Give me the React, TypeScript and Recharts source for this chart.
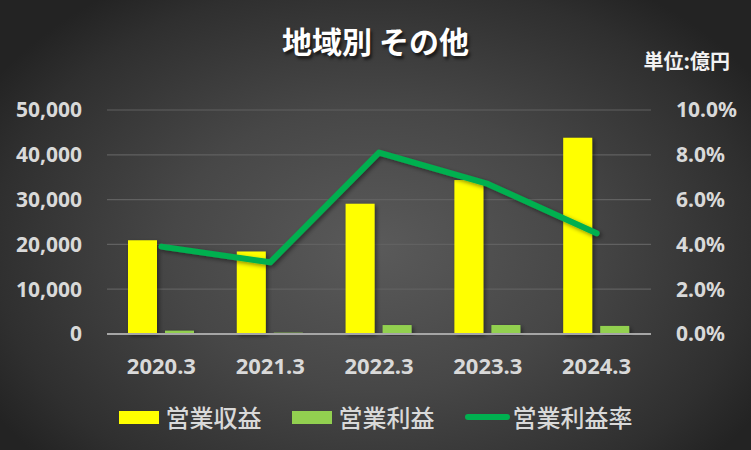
import React from 'react';
import { ComposedChart, Bar, Line, XAxis, YAxis, CartesianGrid, Legend } from 'recharts';

const categories = ['2020.3', '2021.3', '2022.3', '2023.3', '2024.3'];
const revenue = [20900, 18400, 29100, 34400, 43800];
const profit = [750, 300, 2000, 2000, 1800];
const margin = [3.9, 3.2, 8.1, 6.7, 4.5];
const leftTicks = [0, 10000, 20000, 30000, 40000, 50000];
const rightTicks = [0, 2, 4, 6, 8, 10];

const seriesNames = ['営業収益', '営業利益', '営業利益率'];
const colors = ['#FFFF00', '#92D050', '#00B050'];

const data = categories.map((c, i) => ({
  name: c,
  revenue: revenue[i],
  profit: profit[i],
  margin: margin[i],
}));

const FONT = '"Noto Sans", "Noto Sans CJK JP", sans-serif';
const CJK = '"Noto Sans CJK JP", "Noto Sans", sans-serif';
const TICK_COLOR = '#D9D9D9';

const LegendContent = () => (
  <div style={{ display: 'flex', justifyContent: 'center', alignItems: 'center', fontFamily: CJK, fontSize: 24, color: TICK_COLOR, fontWeight: 500 }}>
    {seriesNames.map((n, i) => (
      <div key={n} style={{ display: 'flex', alignItems: 'center', marginLeft: i === 0 ? 0 : 30 }}>
        {i < 2 ? (
          <div style={{ width: 40, height: 13, background: colors[i], marginRight: 7 }} />
        ) : (
          <div style={{ width: 45, height: 6, borderRadius: 3, background: colors[i], marginRight: 3 }} />
        )}
        <span style={{ lineHeight: '30px' }}>{n}</span>
      </div>
    ))}
  </div>
);

export default function App() {
  return (
    <div
      style={{
        position: 'absolute',
        top: 0,
        left: 0,
        width: 751,
        height: 450,
        background: 'radial-gradient(ellipse 60% 70% at 50% 55%, #5a5a5a 0%, #474747 45%, #2f2f2f 85%, #232323 100%)',
        overflow: 'hidden',
      }}
    >
      <div
        style={{
          position: 'absolute',
          top: 20,
          left: 0,
          width: 751,
          textAlign: 'center',
          fontFamily: CJK,
          fontWeight: 700,
          fontSize: 30,
          lineHeight: '40px',
          color: '#FFFFFF',
          textShadow: '2px 3px 3px rgba(0,0,0,0.6)',
        }}
      >
        地域別 その他
      </div>
      <div
        style={{
          position: 'absolute',
          top: 47,
          right: 21,
          fontFamily: CJK,
          fontWeight: 700,
          fontSize: 20,
          lineHeight: '28px',
          color: '#F2F2F2',
        }}
      >
        単位:億円
      </div>
      <ComposedChart
        width={751}
        height={450}
        data={data}
        margin={{ top: 110, right: 0, bottom: 76, left: 0 }}
        barGap={8}
      >
        <defs>
          <filter id="sh" x="-20%" y="-20%" width="140%" height="140%">
            <feDropShadow dx="2" dy="2" stdDeviation="2" floodColor="#000" floodOpacity="0.45" />
          </filter>
        </defs>
        <CartesianGrid vertical={false} stroke="#616161" strokeWidth={1.2} yAxisId="left" />
        <XAxis
          dataKey="name"
          tickLine={false}
          axisLine={{ stroke: '#A6A6A6', strokeWidth: 2 }}
          tickSize={0}
          tickMargin={24}
          interval={0}
          tick={{ fill: TICK_COLOR, fontSize: 22, fontWeight: 700, fontFamily: FONT }}
          height={40}
        />
        <YAxis
          yAxisId="left"
          domain={[0, 50000]}
          ticks={leftTicks}
          width={107}
          tickLine={false}
          axisLine={false}
          tickSize={0}
          tickMargin={25}
          interval={0}
          tickFormatter={(v: number) => v.toLocaleString('en-US')}
          tick={{ fill: TICK_COLOR, fontSize: 21, fontWeight: 700, fontFamily: FONT }}
        />
        <YAxis
          yAxisId="right"
          orientation="right"
          domain={[0, 10]}
          ticks={rightTicks}
          width={100}
          tickLine={false}
          axisLine={false}
          tickSize={0}
          tickMargin={25}
          interval={0}
          tickFormatter={(v: number) => `${v.toFixed(1)}%`}
          tick={{ fill: TICK_COLOR, fontSize: 21, fontWeight: 700, fontFamily: FONT, textAnchor: 'start' }}
        />
        <Bar yAxisId="left" dataKey="revenue" name={seriesNames[0]} fill={colors[0]} barSize={29} isAnimationActive={false} filter="url(#sh)" />
        <Bar yAxisId="left" dataKey="profit" name={seriesNames[1]} fill={colors[1]} barSize={29} isAnimationActive={false} filter="url(#sh)" />
        <Line
          yAxisId="right"
          dataKey="margin"
          name={seriesNames[2]}
          stroke={colors[2]}
          strokeWidth={6}
          strokeLinecap="round"
          strokeLinejoin="round"
          dot={false}
          activeDot={false}
          isAnimationActive={false}
          filter="url(#sh)"
        />
        <Legend
          layout="horizontal"
          verticalAlign="middle"
          align="center"
          content={<LegendContent />}
          wrapperStyle={{ top: 402, left: 0, width: 751, height: 30 }}
        />
      </ComposedChart>
    </div>
  );
}
